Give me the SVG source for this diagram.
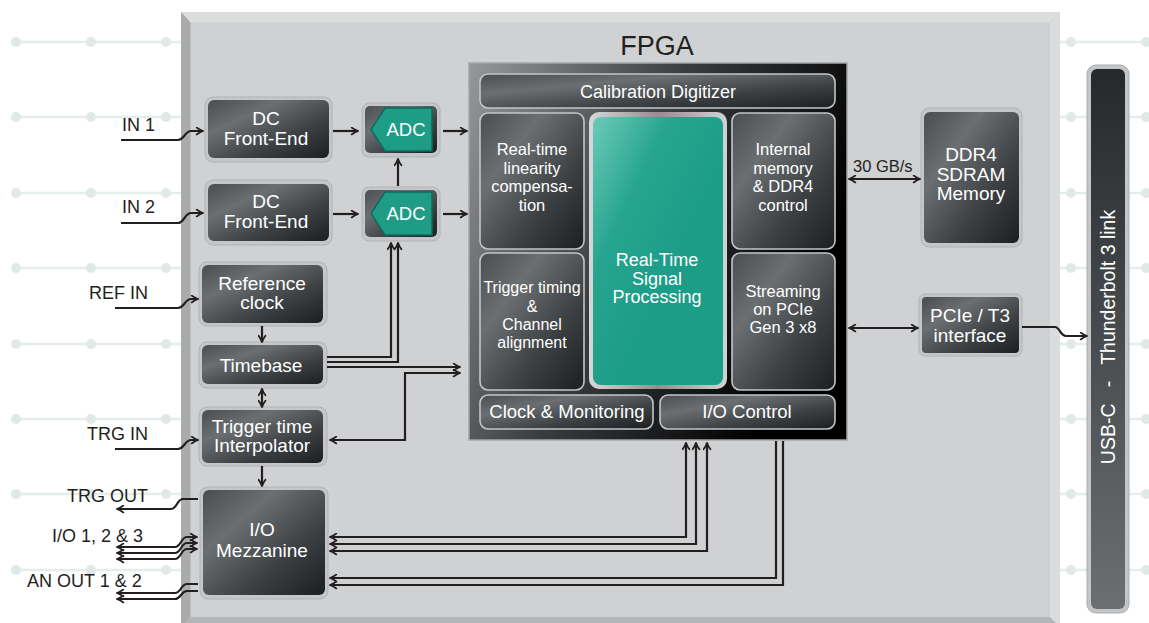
<svg xmlns="http://www.w3.org/2000/svg" width="1149" height="623" viewBox="0 0 1149 623">
<defs>
<linearGradient id="dk" x1="0" y1="0" x2="1" y2="1">
<stop offset="0" stop-color="#4a4e51"/><stop offset="0.3" stop-color="#6b6f72"/><stop offset="0.65" stop-color="#3d4144"/><stop offset="1" stop-color="#1c1f21"/>
</linearGradient>
<linearGradient id="frame" x1="0" y1="0" x2="1" y2="0.4">
<stop offset="0" stop-color="#96989a"/><stop offset="0.5" stop-color="#3a3c3e"/><stop offset="1" stop-color="#000"/>
</linearGradient>
<linearGradient id="teal" x1="0" y1="0" x2="0.6" y2="0.6">
<stop offset="0" stop-color="#6ccab9"/><stop offset="0.5" stop-color="#26a48e"/><stop offset="1" stop-color="#1c9d87"/>
</linearGradient>
<linearGradient id="silver" x1="0" y1="0" x2="1" y2="0">
<stop offset="0" stop-color="#d6d8da"/><stop offset="0.5" stop-color="#8d8f91"/><stop offset="1" stop-color="#d0d2d4"/>
</linearGradient>
<linearGradient id="tb" x1="0" y1="0" x2="0" y2="1">
<stop offset="0" stop-color="#26292b"/><stop offset="1" stop-color="#6c6f71"/>
</linearGradient>
<marker id="ah" viewBox="0 0 10 10" refX="9" refY="5" markerWidth="9" markerHeight="9" markerUnits="userSpaceOnUse" orient="auto-start-reverse">
<path d="M2,1.2 Q5,3.5 9,5 Q5,6.5 2,8.8" fill="none" stroke="#231f20" stroke-width="2" stroke-linecap="round"/>
</marker>
<style>
.bgl{stroke:#e6ecea;stroke-width:2.5;fill:none}
.bgd{fill:#e1e9e7}
.nb{fill:#c4c6c7;stroke:#b0b2b4;stroke-width:1}
.nd{fill:url(#dk)}
.cell{fill:url(#dk);stroke:#c3c5c7;stroke-width:1.6}
.t{font-family:"Liberation Sans",Arial,sans-serif;fill:#fff;text-anchor:middle;font-size:19px}
.ts{font-family:"Liberation Sans",Arial,sans-serif;fill:#fff;text-anchor:middle;font-size:16.5px}
.lb{font-family:"Liberation Sans",Arial,sans-serif;fill:#231f20;font-size:18px}
.w{fill:none;stroke:#231f20;stroke-width:2.2}
.a{marker-end:url(#ah)}
.b{marker-start:url(#ah);marker-end:url(#ah)}
</style>
</defs>
<rect width="1149" height="623" fill="#fff"/>
<g id="background">
<g class="bgl">
<path d="M16,42H181M16,117H181M16,193H181M16,268H181M16,344H181M16,419H181M16,494H181M16,570H181"/>
<path d="M1060,42H1149M1060,117H1149M1060,193H1149M1060,268H1149M1060,344H1149M1060,419H1149M1060,494H1149M1060,570H1149"/>
</g>
<g class="bgd">
<circle cx="16" cy="42" r="5"/><circle cx="91" cy="42" r="5"/><circle cx="166" cy="42" r="5"/>
<circle cx="16" cy="117" r="5"/><circle cx="91" cy="117" r="5"/><circle cx="166" cy="117" r="5"/>
<circle cx="16" cy="193" r="5"/><circle cx="91" cy="193" r="5"/><circle cx="166" cy="193" r="5"/>
<circle cx="16" cy="268" r="5"/><circle cx="91" cy="268" r="5"/><circle cx="166" cy="268" r="5"/>
<circle cx="16" cy="344" r="5"/><circle cx="91" cy="344" r="5"/><circle cx="166" cy="344" r="5"/>
<circle cx="16" cy="419" r="5"/><circle cx="91" cy="419" r="5"/><circle cx="166" cy="419" r="5"/>
<circle cx="16" cy="494" r="5"/><circle cx="91" cy="494" r="5"/><circle cx="166" cy="494" r="5"/>
<circle cx="16" cy="570" r="5"/><circle cx="91" cy="570" r="5"/><circle cx="166" cy="570" r="5"/>
<circle cx="1071" cy="42" r="5"/><circle cx="1146" cy="42" r="5"/>
<circle cx="1071" cy="117" r="5"/><circle cx="1146" cy="117" r="5"/>
<circle cx="1071" cy="193" r="5"/><circle cx="1146" cy="193" r="5"/>
<circle cx="1071" cy="268" r="5"/><circle cx="1146" cy="268" r="5"/>
<circle cx="1071" cy="344" r="5"/><circle cx="1146" cy="344" r="5"/>
<circle cx="1071" cy="419" r="5"/><circle cx="1146" cy="419" r="5"/>
<circle cx="1071" cy="494" r="5"/><circle cx="1146" cy="494" r="5"/>
<circle cx="1071" cy="570" r="5"/><circle cx="1146" cy="570" r="5"/>
</g>
</g>
<g id="fpga-board">
<rect x="181" y="12" width="879" height="615" fill="#d0d1d3"/>
<polygon points="181,12 1060,12 1050,22.5 190.5,22.5" fill="#dcdddd"/>
<polygon points="181,12 190.5,22.5 190.5,617 181,627" fill="#a9abad"/>
<polygon points="1060,12 1060,627 1050,617 1050,22.5" fill="#dbdcdd"/>
<polygon points="190.5,617 1050,617 1060,627 181,627" fill="#b4b5b7"/>
<text x="657" y="55" class="lb" style="font-size:27px;text-anchor:middle">FPGA</text>
</g>
<g id="fpga-core">
<rect x="469" y="63" width="378" height="377" fill="url(#frame)" stroke="#a3a5a7" stroke-width="1.5"/>
<g id="calib"><rect class="cell" x="480" y="74" width="355" height="34" rx="8"/><text class="t" style="font-size:18px" x="658" y="98">Calibration Digitizer</text></g>
<g id="linearity"><rect class="cell" x="480" y="113" width="104" height="136" rx="8"/>
<text class="ts" x="532"><tspan x="532" y="155">Real-time</tspan><tspan x="532" y="174">linearity</tspan><tspan x="532" y="192">compensa-</tspan><tspan x="532" y="211">tion</tspan></text></g>
<g id="dsp"><rect x="589" y="112" width="138" height="277" rx="10" fill="url(#silver)"/><rect x="593" y="117" width="130" height="268" rx="8" fill="url(#teal)"/>
<text class="t" style="font-size:18px" x="657"><tspan x="657" y="266">Real-Time</tspan><tspan x="657" y="285">Signal</tspan><tspan x="657" y="303">Processing</tspan></text></g>
<g id="intmem"><rect class="cell" x="732" y="113" width="103" height="136" rx="8"/>
<text class="ts" x="783"><tspan x="783" y="155">Internal</tspan><tspan x="783" y="174">memory</tspan><tspan x="783" y="192">&amp; DDR4</tspan><tspan x="783" y="211">control</tspan></text></g>
<g id="trigtiming"><rect class="cell" x="480" y="253" width="104" height="137" rx="8"/>
<text class="ts" style="font-size:16px" x="532"><tspan x="532" y="293">Trigger timing</tspan><tspan x="532" y="312">&amp;</tspan><tspan x="532" y="330">Channel</tspan><tspan x="532" y="348">alignment</tspan></text></g>
<g id="streaming"><rect class="cell" x="732" y="253" width="103" height="137" rx="8"/>
<text class="ts" x="783"><tspan x="783" y="297">Streaming</tspan><tspan x="783" y="315">on PCIe</tspan><tspan x="783" y="333">Gen 3 x8</tspan></text></g>
<g id="clockmon"><rect class="cell" x="480" y="395" width="173" height="34" rx="8"/><text class="t" style="font-size:18.5px" x="567" y="418">Clock &amp; Monitoring</text></g>
<g id="iocontrol"><rect class="cell" x="660" y="395" width="175" height="34" rx="8"/><text class="t" style="font-size:18.5px" x="747" y="418">I/O Control</text></g>
</g>
<g id="dc1"><rect class="nb" x="205" y="97" width="127" height="65" rx="8"/><rect class="nd" x="208" y="100" width="121" height="58" rx="6"/>
<text class="t" x="266"><tspan x="266" y="125">DC</tspan><tspan x="266" y="145">Front-End</tspan></text></g>
<g id="dc2"><rect class="nb" x="205" y="180" width="127" height="65" rx="8"/><rect class="nd" x="208" y="184" width="121" height="57" rx="6"/>
<text class="t" x="266"><tspan x="266" y="208">DC</tspan><tspan x="266" y="228">Front-End</tspan></text></g>
<g id="adc1"><rect class="nb" x="362" y="103" width="78" height="54" rx="7"/><rect class="nd" x="365" y="106" width="72" height="47" rx="5"/>
<polygon points="371,129.5 385,108 432,108 432,151 385,151" fill="#1f9c86" stroke="#0c6b5c" stroke-width="1.5"/>
<text class="t" style="font-size:18.5px" x="406" y="136">ADC</text></g>
<g id="adc2"><rect class="nb" x="362" y="187" width="78" height="54" rx="7"/><rect class="nd" x="365" y="190" width="72" height="47" rx="5"/>
<polygon points="371,213.5 385,192 432,192 432,235 385,235" fill="#1f9c86" stroke="#0c6b5c" stroke-width="1.5"/>
<text class="t" style="font-size:18.5px" x="406" y="220">ADC</text></g>
<g id="refclk"><rect class="nb" x="199" y="262" width="128" height="64" rx="8"/><rect class="nd" x="202" y="265" width="121" height="58" rx="6"/>
<text class="t" x="262"><tspan x="262" y="290">Reference</tspan><tspan x="262" y="309">clock</tspan></text></g>
<g id="timebase"><rect class="nb" x="199" y="342" width="128" height="46" rx="8"/><rect class="nd" x="202" y="345" width="121" height="39" rx="6"/>
<text class="t" x="261" y="372">Timebase</text></g>
<g id="interp"><rect class="nb" x="199" y="407" width="128" height="59" rx="8"/><rect class="nd" x="202" y="410" width="121" height="53" rx="6"/>
<text class="t" x="262"><tspan x="262" y="433">Trigger time</tspan><tspan x="262" y="452">Interpolator</tspan></text></g>
<g id="mezz"><rect class="nb" x="200" y="487" width="128" height="112" rx="8"/><rect class="nd" x="203" y="490" width="122" height="105" rx="6"/>
<text class="t" x="262"><tspan x="262" y="536">I/O</tspan><tspan x="262" y="557">Mezzanine</tspan></text></g>
<g id="ddr4"><rect class="nb" x="921" y="108" width="101" height="139" rx="8"/><rect class="nd" x="924" y="112" width="95" height="131" rx="6"/>
<text class="t" x="971"><tspan x="971" y="161">DDR4</tspan><tspan x="971" y="181">SDRAM</tspan><tspan x="971" y="200">Memory</tspan></text></g>
<g id="pcie"><rect class="nb" x="919" y="294" width="103" height="62" rx="6"/><rect class="nd" x="922" y="297" width="97" height="56" rx="4"/>
<text class="t" x="970"><tspan x="970" y="322">PCIe / T3</tspan><tspan x="970" y="342">interface</tspan></text></g>
<g id="thunderbolt"><rect x="1087" y="65" width="42" height="548" rx="9" fill="#c3c5c7" stroke="#a9abad" stroke-width="1"/><rect x="1091" y="69" width="34" height="540" rx="6" fill="url(#tb)"/>
<text class="t" xml:space="preserve" style="font-size:19.5px" transform="translate(1115,337) rotate(-90)" x="0" y="0">USB-C   -   Thunderbolt 3 link</text></g>
<g id="labels">
<text class="lb" x="122" y="131">IN 1</text>
<text class="lb" x="122" y="213">IN 2</text>
<text class="lb" x="89" y="299">REF IN</text>
<text class="lb" x="87" y="440">TRG IN</text>
<text class="lb" x="67" y="502">TRG OUT</text>
<text class="lb" x="52" y="542">I/O 1, 2 &amp; 3</text>
<text class="lb" x="27" y="587">AN OUT 1 &amp; 2</text>
<text class="lb" style="font-size:16.5px" x="853" y="172">30 GB/s</text>
</g>
<g id="connectors" class="w">
<path class="a" d="M121,140H178C184,140 185,131 191,131H203"/>
<path class="a" d="M121,223H178C184,223 185,213 191,213H203"/>
<path class="a" d="M115,308H178C184,308 185,299 191,299H198"/>
<path class="a" d="M115,449H178C184,449 185,440 191,440H198"/>
<path class="a" d="M198,499H183C177,499 177,509 171,509H117"/>
<path class="b" d="M197,537H187C181,537 181,547 175,547H117"/>
<path class="b" d="M197,543H187C181,543 181,553 175,553H117"/>
<path class="b" d="M197,549H187C181,549 181,559 175,559H117"/>
<path class="a" d="M198,584H187C181,584 181,593 175,593H117"/>
<path class="a" d="M198,591H187C181,591 181,599 175,599H117"/>
<path class="a" d="M333,131H358"/>
<path class="a" d="M333,214H358"/>
<path class="a" d="M443,131H467"/>
<path class="a" d="M443,214H467"/>
<path class="a" d="M398,186V159"/>
<path class="a" d="M327,357H391V243"/>
<path class="a" d="M327,362H398V243"/>
<path class="a" d="M327,367H460"/>
<path class="b" d="M330,440H405V373H460"/>
<path class="a" d="M262,326V342"/>
<path class="b" d="M262,389V407"/>
<path class="a" d="M262,466V486"/>
<path class="b" d="M330,537H686V443"/>
<path class="b" d="M330,544H696V443"/>
<path class="b" d="M330,551H707V443"/>
<path class="a" d="M776,441V578H330"/>
<path class="a" d="M783,441V585H330"/>
<path class="b" d="M849,179H920"/>
<path class="b" d="M849,328H918"/>
<path class="a" d="M1022,327H1055C1060,327 1060,336 1066,336H1087"/>
</g>
</svg>
